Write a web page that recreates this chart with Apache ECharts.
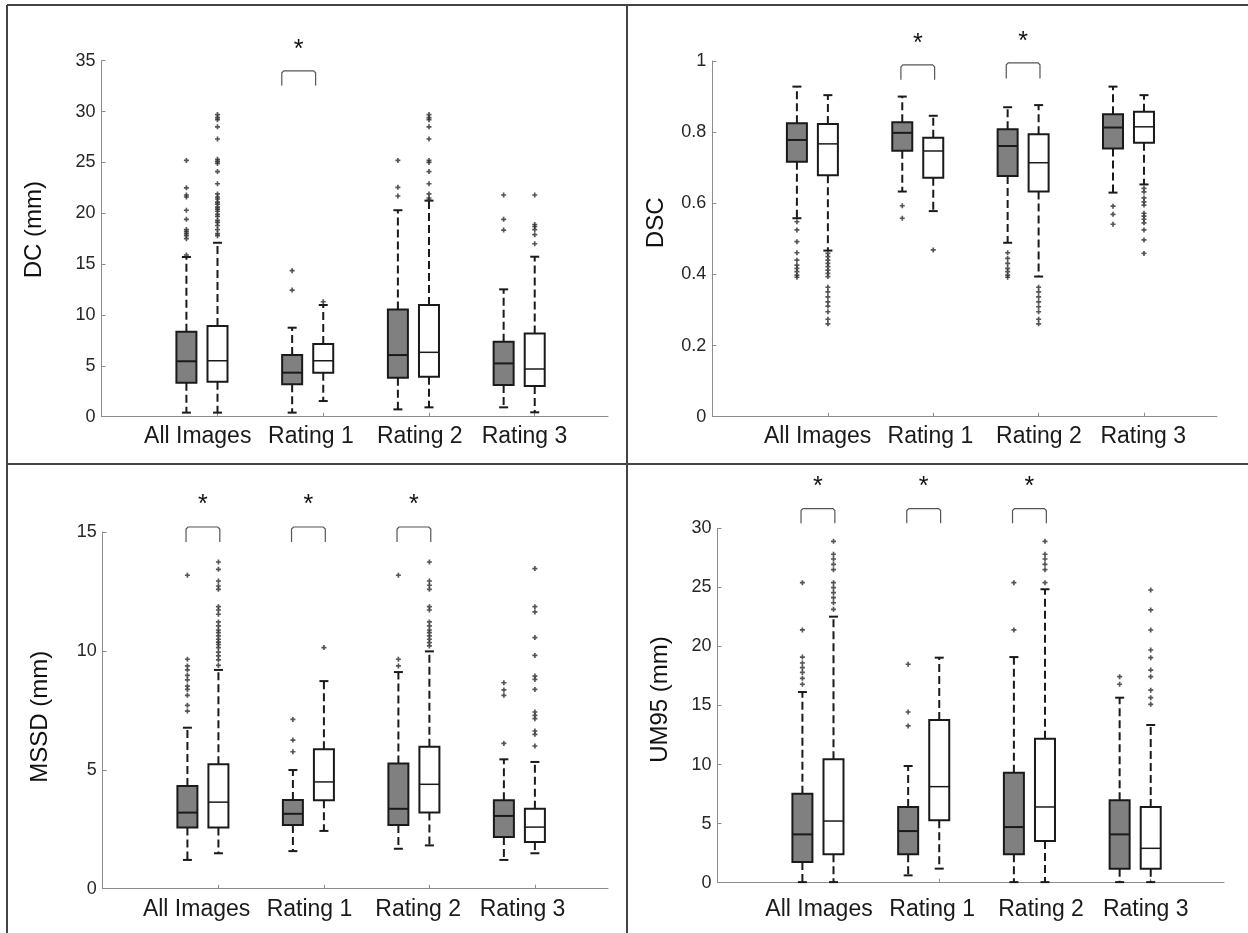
<!DOCTYPE html>
<html>
<head>
<meta charset="utf-8">
<script src="https://cdn.jsdelivr.net/npm/echarts@6/dist/echarts.min.js"></script>
<style>
html,body{margin:0;padding:0;background:#fff;}
#c{width:1248px;height:933px;}
</style>
</head>
<body>
<div id="c"></div>
<script>
// ---------- data ----------
const categories = ['All Images', 'Rating 1', 'Rating 2', 'Rating 3'];

// box stats: [lower whisker, Q1, median, Q3, upper whisker]
const dcGray  = [[0.4, 3.34, 5.45, 8.36, 15.7], [0.4, 3.18, 4.33, 6.06, 8.75], [0.72, 3.83, 6.06, 10.55, 20.3], [0.92, 3.11, 5.24, 7.37, 12.52]];
const dcWhite = [[0.4, 3.44, 5.5, 8.92, 17.1], [1.54, 4.33, 5.5, 7.15, 10.98], [0.92, 3.93, 6.33, 10.98, 21.24], [0.43, 3.02, 4.69, 8.19, 15.73]];
const dcGrayOut  = [[15.9, 17.5, 17.8, 18.0, 18.2, 18.4, 19.4, 20.3, 21.6, 21.8, 22.5, 25.2], [12.45, 14.36], [21.7, 22.55, 25.2], [18.35, 19.4, 21.8]];
const dcWhiteOut = [[17.8, 18.0, 18.4, 18.8, 19.1, 19.3, 19.7, 19.9, 20.2, 20.4, 20.6, 20.9, 21.1, 21.4, 21.6, 21.9, 22.9, 24.1, 24.9, 25.1, 25.3, 27.3, 28.5, 29.2, 29.4, 29.7], [11.3], [21.3, 21.5, 21.9, 22.9, 24.1, 25.0, 25.2, 27.3, 28.5, 29.2, 29.4, 29.7], [17.0, 17.9, 18.4, 18.7, 18.9, 21.8]];
const dcSig = [[2, 32.55, 34.0, 36.55]]; // [group, bracket leg end, bracket top, star]

const dscGray  = [[0.558, 0.717, 0.778, 0.825, 0.928], [0.633, 0.748, 0.798, 0.828, 0.9], [0.489, 0.677, 0.761, 0.808, 0.87], [0.63, 0.754, 0.813, 0.85, 0.928]];
const dscWhite = [[0.467, 0.679, 0.767, 0.823, 0.904], [0.578, 0.672, 0.747, 0.784, 0.846], [0.394, 0.633, 0.714, 0.794, 0.876], [0.653, 0.77, 0.815, 0.857, 0.904]];
const dscGrayOut  = [[0.392, 0.398, 0.408, 0.417, 0.426, 0.44, 0.461, 0.492, 0.525, 0.548], [0.558, 0.593], [0.392, 0.398, 0.408, 0.417, 0.431, 0.445, 0.461], [0.541, 0.569, 0.592]];
const dscWhiteOut = [[0.261, 0.274, 0.295, 0.311, 0.323, 0.337, 0.351, 0.364, 0.394, 0.403, 0.412, 0.422, 0.431, 0.44, 0.45, 0.459], [0.469], [0.261, 0.274, 0.295, 0.309, 0.323, 0.337, 0.351, 0.364], [0.459, 0.497, 0.525, 0.545, 0.555, 0.564, 0.572, 0.595, 0.604, 0.615, 0.632, 0.642]];
const dscSig = [[2, 0.947, 0.989, 1.061], [3, 0.951, 0.995, 1.067]];

const mssdGray  = [[1.21, 2.57, 3.2, 4.32, 6.77], [1.58, 2.68, 3.15, 3.73, 4.99], [1.68, 2.68, 3.36, 5.27, 9.11], [1.21, 2.17, 3.06, 3.72, 5.44]];
const mssdWhite = [[1.49, 2.57, 3.64, 5.23, 9.2], [2.43, 3.72, 4.49, 5.86, 8.73], [1.82, 3.2, 4.39, 5.97, 9.98], [1.49, 1.96, 2.59, 3.36, 5.33]];
const mssdGrayOut  = [[7.47, 7.71, 8.13, 8.38, 8.52, 8.78, 8.97, 9.2, 9.37, 9.65, 13.18], [5.76, 6.25, 7.12], [9.37, 9.65, 13.18], [6.11, 8.13, 8.36, 8.66]];
const mssdWhiteOut = [[9.39, 9.62, 9.79, 9.95, 10.14, 10.27, 10.37, 10.49, 10.63, 10.77, 10.88, 11.05, 11.22, 11.54, 11.72, 11.86, 12.59, 12.73, 12.94, 13.43, 13.74], [10.14], [10.21, 10.35, 10.49, 10.63, 10.77, 10.88, 11.05, 11.22, 11.72, 11.86, 12.59, 12.76, 12.94, 13.74], [6.0, 6.49, 6.63, 7.15, 7.29, 7.43, 8.38, 8.8, 8.94, 9.81, 10.56, 11.64, 11.86, 13.46]];
const mssdSig = [[1, 14.58, 15.21, 16.33], [2, 14.58, 15.21, 16.33], [3, 14.58, 15.21, 16.33]];

const umGray  = [[0.05, 1.75, 4.09, 7.54, 16.14], [0.62, 2.4, 4.37, 6.41, 9.88], [0.05, 2.4, 4.71, 9.31, 19.1], [0.05, 1.19, 4.09, 6.97, 15.66]];
const umWhite = [[0.05, 2.4, 5.22, 10.44, 22.52], [1.19, 5.28, 8.13, 13.77, 19.05], [0.05, 3.53, 6.41, 12.19, 24.84], [0.05, 1.19, 2.91, 6.41, 13.35]];
const umGrayOut  = [[16.8, 17.3, 17.8, 18.2, 18.6, 19.1, 21.4, 25.4], [13.27, 14.45, 18.49], [21.4, 25.4], [16.8, 17.44]];
const umWhiteOut = [[23.14, 23.7, 24.13, 24.56, 24.98, 25.4, 26.5, 26.95, 27.4, 27.8, 28.9], [], [25.4, 26.5, 26.95, 27.4, 27.8, 28.9], [15.1, 15.66, 16.3, 17.44, 18.0, 19.05, 19.7, 21.39, 23.09, 24.78]];
const umSig = [[1, 30.43, 31.67, 33.87], [2, 30.43, 31.67, 33.87], [3, 30.43, 31.67, 33.87]];

const axisNames = ['DC (mm)', 'DSC', 'MSSD (mm)', 'UM95 (mm)'];
const yMax = [35, 1, 15, 30];
const yStep = [5, 0.2, 5, 5];

// ---------- layout / style ----------
const FONT = 'Liberation Sans, Arial, Helvetica, sans-serif';
const PAIR_OFF = 0.147;      // half distance gray-white in axis units
const X_MIN = 0.05, X_MAX = 4.84;
const labelShift = [0, 0.07, 0.1, 0.09];

const panels = [
  {gray: dcGray, white: dcWhite, grayOut: dcGrayOut, whiteOut: dcWhiteOut, sig: dcSig,
   grid: {left: 101.5, top: 60.7, width: 506.5, height: 356}, nameGap: 55, namePad: [0, 0, 0, 18], labelMargin: 8, labelPanelShift: -0.04, sigShift: -0.085},
  {gray: dscGray, white: dscWhite, grayOut: dscGrayOut, whiteOut: dscWhiteOut, sig: dscSig,
   grid: {left: 712.3, top: 61, width: 504.7, height: 355.7}, nameGap: 44, namePad: [0, 0, 0, 32], labelMargin: 8, labelPanelShift: 0.05, sigShift: 0},
  {gray: mssdGray, white: mssdWhite, grayOut: mssdGrayOut, whiteOut: mssdWhiteOut, sig: mssdSig,
   grid: {left: 102.7, top: 532, width: 505.3, height: 356.7}, nameGap: 50, namePad: [0, 13, 0, 0], labelMargin: 9, labelPanelShift: -0.06, sigShift: 0},
  {gray: umGray, white: umWhite, grayOut: umGrayOut, whiteOut: umWhiteOut, sig: umSig,
   grid: {left: 717.5, top: 528.3, width: 506.5, height: 354.4}, nameGap: 45, namePad: [0, 0, 0, 12], labelMargin: 15, labelPanelShift: 0.01, sigShift: 0}
];

function boxRender(params, api) {
  const x = api.value(0);
  const lo = api.coord([x, api.value(1)]);
  const q1 = api.coord([x, api.value(2)]);
  const md = api.coord([x, api.value(3)]);
  const q3 = api.coord([x, api.value(4)]);
  const hi = api.coord([x, api.value(5)]);
  const filled = api.value(6) === 1;
  const cx = lo[0];
  const hw = 10, cw = 4.5;
  const dash = {stroke: '#1a1a1a', lineWidth: 2, lineDash: [8, 4]};
  const solid = {stroke: '#1a1a1a', lineWidth: 2};
  return {
    type: 'group',
    children: [
      {type: 'line', shape: {x1: cx, y1: q3[1], x2: cx, y2: hi[1]}, style: dash},
      {type: 'line', shape: {x1: cx, y1: q1[1], x2: cx, y2: lo[1]}, style: dash},
      {type: 'line', shape: {x1: cx - cw, y1: hi[1], x2: cx + cw, y2: hi[1]}, style: solid},
      {type: 'line', shape: {x1: cx - cw, y1: lo[1], x2: cx + cw, y2: lo[1]}, style: solid},
      {type: 'rect', shape: {x: cx - hw, y: q3[1], width: 2 * hw, height: q1[1] - q3[1]},
       style: {fill: filled ? '#808080' : '#ffffff', stroke: '#1a1a1a', lineWidth: 2}},
      {type: 'line', shape: {x1: cx - hw, y1: md[1], x2: cx + hw, y2: md[1]},
       style: {stroke: '#1a1a1a', lineWidth: filled ? 2 : 1.5}}
    ]
  };
}

function sigRenderFactory(shift) {
  return function (params, api) {
    const xc = api.value(0) + shift;
    const l = api.coord([xc - 0.16, api.value(2)]);
    const r = api.coord([xc + 0.16, api.value(2)]);
    const b = api.coord([xc, api.value(1)]);
    const s = api.coord([xc, api.value(3)]);
    return {
      type: 'group',
      children: [
        {type: 'polyline', shape: {points: [[l[0], b[1]], [l[0], l[1] + 2], [l[0] + 2, l[1]], [r[0] - 2, r[1]], [r[0], r[1] + 2], [r[0], b[1]]]},
         style: {stroke: '#555', lineWidth: 1.2, fill: null}},
        {type: 'text', style: {text: '*', x: s[0], y: s[1] + 5, align: 'center', verticalAlign: 'middle',
         font: '25px ' + FONT, fill: '#111'}}
      ]
    };
  };
}

const grids = [], xAxes = [], yAxes = [], series = [];
panels.forEach(function (p, i) {
  grids.push(Object.assign({containLabel: false}, p.grid));
  const whitePos = categories.map(function (c, g) { return g + 1 + PAIR_OFF; });
  const labelPos = categories.map(function (c, g) { return g + 1 + labelShift[g] + p.labelPanelShift; });
  xAxes.push({
    gridIndex: i, type: 'value', min: X_MIN, max: X_MAX,
    axisLine: {show: true, onZero: false, lineStyle: {color: '#8c8c8c', width: 1}},
    axisTick: {show: true, inside: true, length: 4, customValues: whitePos, lineStyle: {color: '#8c8c8c'}},
    axisLabel: {customValues: labelPos, margin: p.labelMargin, fontSize: 23, fontFamily: FONT, color: '#1a1a1a',
      formatter: function (v) { const k = Math.round(v) - 1; return categories[k] || ''; }},
    splitLine: {show: false}
  });
  yAxes.push({
    gridIndex: i, type: 'value', min: 0, max: yMax[i], interval: yStep[i],
    name: axisNames[i], nameLocation: 'middle', nameGap: p.nameGap,
    nameTextStyle: {fontSize: 24, fontFamily: FONT, color: '#111', padding: p.namePad},
    axisLine: {show: true, lineStyle: {color: '#8c8c8c', width: 1}},
    axisTick: {show: true, inside: true, length: 4, lineStyle: {color: '#8c8c8c'}},
    axisLabel: {margin: 6, fontSize: 18, fontFamily: FONT, color: '#262626'},
    splitLine: {show: false}
  });
  const boxData = [];
  p.gray.forEach(function (s, g) { boxData.push([g + 1 - PAIR_OFF].concat(s, [1])); });
  p.white.forEach(function (s, g) { boxData.push([g + 1 + PAIR_OFF].concat(s, [0])); });
  series.push({
    type: 'custom', xAxisIndex: i, yAxisIndex: i, renderItem: boxRender, data: boxData,
    encode: {x: 0, y: [1, 2, 3, 4, 5]}, silent: true, animation: false, z: 2
  });
  const outData = [];
  p.grayOut.forEach(function (arr, g) { arr.forEach(function (v) { outData.push([g + 1 - PAIR_OFF, v]); }); });
  p.whiteOut.forEach(function (arr, g) { arr.forEach(function (v) { outData.push([g + 1 + PAIR_OFF, v]); }); });
  series.push({
    type: 'scatter', xAxisIndex: i, yAxisIndex: i, data: outData,
    symbol: 'path://M2,0H4V2H6V4H4V6H2V4H0V2H2Z', symbolSize: 5,
    itemStyle: {color: '#2a2a2a'}, silent: true, animation: false, z: 3
  });
  series.push({
    type: 'custom', xAxisIndex: i, yAxisIndex: i, renderItem: sigRenderFactory(p.sigShift), data: p.sig,
    encode: {x: 0, y: [1, 2]}, clip: false, silent: true, animation: false, z: 4
  });
});

const borderStyle = {stroke: '#444', lineWidth: 2};
const option = {
  backgroundColor: '#ffffff',
  animation: false,
  grid: grids,
  xAxis: xAxes,
  yAxis: yAxes,
  series: series,
  graphic: [
    {type: 'line', shape: {x1: 7, y1: 5, x2: 1248, y2: 5}, style: borderStyle, silent: true},
    {type: 'line', shape: {x1: 7, y1: 5, x2: 7, y2: 933}, style: borderStyle, silent: true},
    {type: 'line', shape: {x1: 7, y1: 464, x2: 1248, y2: 464}, style: borderStyle, silent: true},
    {type: 'line', shape: {x1: 627, y1: 5, x2: 627, y2: 933}, style: borderStyle, silent: true}
  ]
};

const chart = echarts.init(document.getElementById('c'), null, {renderer: 'canvas'});
chart.setOption(option);
</script>
</body>
</html>
